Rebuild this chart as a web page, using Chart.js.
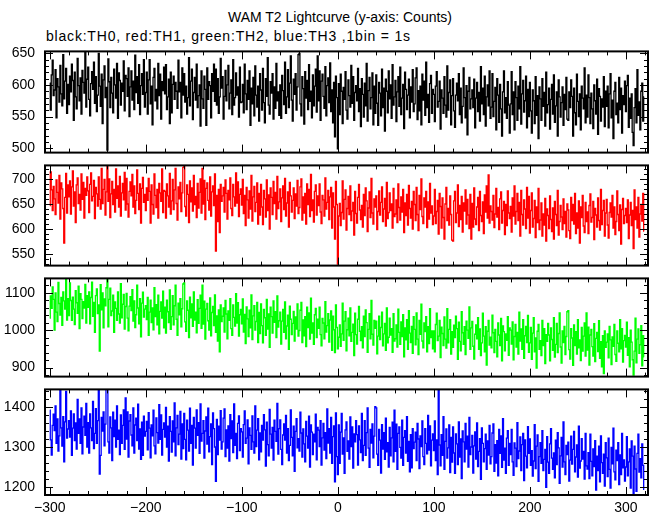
<!DOCTYPE html>
<html><head><meta charset="utf-8">
<script src="https://cdn.jsdelivr.net/npm/chart.js@4.4.0/dist/chart.umd.min.js"></script>
<style>
html,body{margin:0;padding:0;background:#fff;}
#wrap{position:relative;width:652px;height:515px;overflow:hidden;font-family:"Liberation Sans",Arial,sans-serif;background:#fff;}
#wrap canvas{position:absolute;left:0;}
.t{position:absolute;white-space:nowrap;font-size:14px;color:#000;line-height:14px;}
</style></head><body>
<div id="wrap">
<div class="t" id="title" style="left:0;width:680px;text-align:center;top:10px;">WAM T2 Lightcurve (y-axis: Counts)</div>
<div class="t" id="subtitle" style="left:46px;top:29px;letter-spacing:0.8px;">black:TH0, red:TH1, green:TH2, blue:TH3 ,1bin = 1s</div>
</div>
<script>
// ---- data (counts per 1 s bin, bins start at t = -300 s) ----
const T_START = -300;
const TH0 = [
603,560,616,639,583,592,624,548,610,597,573,631,586,567,648,578,606,626,555,601,
569,614,589,633,607,544,620,581,562,642,599,575,611,554,623,604,587,652,565,609,
628,577,551,602,621,593,636,571,613,558,584,650,598,566,617,539,608,630,580,596,
497,641,605,564,612,587,556,625,600,579,634,547,619,607,568,603,590,638,559,615,
610,582,627,550,597,622,576,606,561,647,588,613,571,632,553,599,618,585,640,565,
588,620,554,608,640,570,598,537,612,626,575,593,562,634,583,617,546,605,591,628,
586,632,561,581,609,539,620,556,601,614,577,604,590,563,639,589,604,548,627,584,
618,573,598,554,580,643,567,606,625,545,588,612,576,633,564,583,600,535,622,578,
563,614,593,536,627,577,605,599,548,618,590,633,574,625,568,610,555,581,642,595,
613,546,582,623,575,600,631,562,587,608,553,640,568,580,619,584,597,549,628,572,
573,601,556,633,586,561,607,577,622,536,595,570,612,551,630,584,565,598,543,618,
592,560,626,572,540,610,582,643,568,554,605,587,618,546,597,563,634,575,589,552,
600,547,615,591,569,636,555,581,624,564,603,646,576,543,609,585,618,560,597,648,
650,570,551,613,594,538,621,579,607,561,632,574,590,548,616,567,598,625,557,646,
575,622,544,606,617,582,563,629,551,599,611,572,635,558,592,540,604,518,614,580,
499,602,553,617,590,539,596,577,621,560,546,608,583,565,631,571,613,544,588,599,
575,626,558,594,534,610,585,549,603,567,634,543,591,612,562,580,619,537,598,555,
616,571,536,604,587,551,625,564,595,527,609,590,556,622,578,600,547,632,568,581,
607,542,589,613,566,628,553,579,601,531,620,593,561,584,609,548,597,573,624,558,
570,611,627,545,591,559,598,537,617,576,606,552,636,564,585,541,602,615,555,593,
585,542,598,621,565,574,606,530,592,579,555,613,568,549,630,560,588,608,537,583,
610,559,533,584,603,575,618,553,595,540,566,627,580,548,599,521,590,612,562,578,
592,564,609,532,579,604,558,588,543,629,570,595,553,614,535,581,600,567,622,547,
565,618,550,574,596,529,610,584,541,601,562,519,589,622,556,580,547,605,568,524,
570,621,553,589,529,605,580,544,598,562,629,538,586,607,557,575,614,532,593,550,
604,559,524,592,575,539,613,552,583,515,597,578,544,610,566,588,535,620,556,569,
595,530,577,601,554,616,541,567,589,519,608,581,549,572,597,536,585,561,612,546,
544,589,564,608,582,519,595,556,537,617,574,550,586,529,598,579,562,627,540,584,
549,616,580,539,587,562,531,600,575,554,609,522,594,582,543,578,565,613,534,590,
566,598,532,586,618,548,576,515,590,604,553,571,540,612,561,595,524,583,569,606,
558,599,615,533,579,547,586,525,504,564,594,540,624,552,573,529,590,603,543,581];
const TH1 = [
647,714,678,637,685,660,629,698,673,652,707,620,692,680,641,572,663,711,632,688,
664,696,630,684,716,646,674,613,688,702,651,669,638,710,659,693,622,681,667,704,
676,633,689,712,656,665,697,621,683,670,646,704,659,640,721,651,679,699,628,674,
727,655,700,623,670,695,649,679,634,720,661,686,644,705,626,672,691,658,713,638,
701,650,624,675,694,666,709,644,686,631,657,718,671,639,690,612,681,703,653,669,
637,682,657,701,675,612,688,649,630,710,667,643,679,622,691,672,655,720,633,677,
675,622,690,666,644,711,630,656,699,639,678,721,651,618,684,660,693,635,672,723,
725,645,626,688,669,613,696,654,682,636,707,649,665,623,691,642,673,700,632,721,
650,697,619,681,692,657,638,704,626,674,686,647,710,556,667,615,679,593,689,655,
666,683,634,698,671,620,677,658,702,641,627,689,664,646,712,652,694,625,669,680,
648,699,631,667,607,683,658,622,676,640,707,616,664,685,635,653,692,610,671,628,
689,644,609,677,660,624,698,637,668,600,682,663,629,695,651,673,620,705,641,654,
680,615,662,686,639,701,626,652,674,604,693,666,634,657,682,621,670,646,697,631,
643,684,700,618,664,632,671,610,690,649,679,625,709,637,658,614,675,688,628,666,
647,690,634,611,667,658,626,702,640,653,677,619,664,683,602,672,644,580,695,649,
530,626,651,607,633,696,620,659,678,598,641,665,629,686,617,636,653,588,675,631,
612,663,689,638,619,647,604,669,627,682,656,595,642,674,623,701,632,610,660,644,
666,599,635,676,628,653,684,615,640,661,606,693,621,633,672,637,650,602,681,625,
630,658,613,690,643,618,664,634,679,593,652,627,669,608,687,641,622,655,600,675,
649,617,683,629,597,667,639,700,625,611,662,644,675,603,654,620,691,632,646,609,
626,679,611,635,657,590,671,645,602,662,623,580,650,683,617,641,608,666,629,578,
576,656,675,613,632,688,605,647,619,665,594,652,636,678,610,659,628,601,669,580,
651,604,682,620,609,644,663,597,675,627,615,654,591,668,634,686,622,708,612,646,
635,618,667,603,630,681,624,643,599,660,674,612,637,655,589,649,607,676,632,621,
645,594,662,626,686,610,635,671,617,653,586,677,629,608,658,640,601,683,622,665,
592,637,672,604,621,657,583,644,613,681,599,618,652,586,630,608,661,576,640,627,
601,666,619,595,642,580,655,629,607,677,588,615,647,624,599,660,611,635,584,650,
638,597,581,663,617,649,610,671,591,632,602,656,572,644,623,667,606,593,653,615,
634,591,647,670,614,623,655,579,641,628,604,662,617,598,679,609,637,657,586,632,
659,608,582,633,652,624,667,602,644,589,615,676,629,597,648,570,639,661,611,627,
641,613,658,581,628,653,607,637,561,678,619,644,602,663,584,630,649,616,671,596];
const TH2 = [
1032,1091,1058,1115,1082,1000,1099,1048,1023,1127,1071,1040,1087,1013,1102,1078,1056,1138,1027,1084,
1039,1126,1079,1026,1088,1056,1015,1105,1073,1045,1117,1004,1097,1082,1031,1076,1059,1122,1019,1092,
1061,1102,1017,1087,1128,1037,1074,994,1092,1110,1044,1067,944,1121,1054,1099,1006,1083,1065,1113,
1138,1009,1082,1112,1039,1051,1093,994,1075,1058,1026,1102,1043,1019,1124,1033,1069,1095,1003,1063,
1098,1032,998,1064,1089,1052,1108,1024,1078,1007,1041,1120,1059,1017,1084,982,1072,1101,1035,1056,
1065,1028,1087,986,1048,1080,1020,1059,1001,1113,1036,1068,1014,1093,990,1050,1075,1032,1104,1006,
1061,992,1080,1049,1020,1107,1002,1036,1092,1014,1065,1120,1029,986,1072,1041,1084,1009,1057,1123,
1126,1022,997,1078,1053,980,1088,1033,1070,1010,1102,1027,1048,993,1081,1018,1058,1093,1005,1120,
1016,1077,976,1056,1071,1025,1000,1086,985,1047,1063,1012,1094,994,1038,971,1054,942,1067,1023,
1037,1059,995,1079,1043,977,1051,1026,1084,1004,986,1067,1034,1011,1097,1019,1073,984,1041,1055,
1017,1083,995,1042,964,1062,1030,983,1053,1006,1094,975,1038,1065,1000,1023,1074,967,1047,991,
1070,1012,966,1055,1033,986,1082,1003,1043,954,1061,1036,992,1078,1021,1049,980,1091,1008,1025,
1048,963,1024,1055,994,1075,977,1011,1040,949,1064,1029,988,1018,1050,971,1035,1003,1070,984,
999,1053,1074,967,1027,985,1036,956,1061,1007,1046,976,1085,992,1019,962,1041,1058,980,1029,
1005,1061,988,958,1031,1019,977,1076,995,1012,1044,968,1027,1051,946,1037,1001,940,1067,1007,
950,981,1014,957,990,1072,973,1024,1049,945,1001,1032,985,1059,970,994,1016,932,1045,988,
963,1029,1063,997,972,1009,953,1037,983,1054,1020,941,1002,1044,977,1079,989,960,1026,1005,
1024,937,984,1037,975,1007,1048,958,990,1018,946,1059,966,981,1032,987,1004,941,1044,971,
977,1014,955,1056,994,962,1022,983,1041,929,1006,974,1028,949,1052,992,967,1010,938,1036,
1002,961,1046,976,935,1026,989,1069,971,953,1019,996,1036,942,1009,964,1057,980,998,950,
998,942,1015,1045,972,984,1026,927,1008,991,959,1035,976,952,1057,966,1002,1028,936,996,
954,1013,980,1037,1004,922,1021,970,945,1049,993,962,1009,935,1024,1000,978,1062,949,1006,
1023,957,923,989,1014,977,1033,949,1003,932,966,1045,984,942,1009,907,997,1026,960,981,
953,1040,993,940,1002,970,929,1019,987,959,1031,918,1011,996,945,990,973,1036,933,1006,
1000,963,1022,921,983,1015,955,994,936,1048,971,1003,949,1028,925,985,1010,967,1039,941,
966,1007,922,992,1033,942,979,899,997,1015,949,972,932,1026,959,1004,911,988,970,1018,
987,918,1006,975,946,1033,928,962,1018,940,991,1046,955,912,998,967,1010,935,983,1049,
1052,948,923,1004,979,906,1014,959,996,936,1028,953,974,919,1007,944,984,1019,931,1046,
947,1008,907,987,1002,956,931,1017,916,978,994,943,1025,925,969,902,985,884,998,954,
968,990,926,1010,974,908,982,957,1015,935,917,998,965,942,1028,950,1004,915,972,986,
955,1021,933,980,902,1000,968,921,880,944,1032,913,976,1003,938,961,1012,905,985,929];
const TH3 = [
1393,1319,1281,1355,1383,1342,1404,1310,1371,1291,1329,1445,1349,1303,1377,1264,1364,1440,1323,1346,
1367,1326,1391,1280,1348,1384,1317,1361,1296,1420,1335,1371,1310,1399,1284,1351,1378,1330,1410,1301,
1362,1286,1384,1349,1317,1415,1297,1335,1397,1310,1367,1445,1233,1280,1375,1341,1389,1304,1358,1445,
1445,1314,1286,1376,1349,1267,1388,1327,1368,1301,1404,1320,1343,1282,1381,1310,1355,1394,1295,1424,
1321,1389,1276,1366,1382,1331,1304,1399,1286,1356,1373,1317,1408,1296,1346,1270,1363,1280,1378,1328,
1340,1365,1294,1387,1348,1274,1356,1329,1393,1304,1284,1374,1337,1311,1407,1320,1381,1281,1345,1361,
1326,1400,1301,1353,1266,1377,1340,1288,1366,1314,1411,1279,1349,1380,1307,1333,1390,1271,1359,1297,
1385,1320,1269,1368,1343,1291,1398,1310,1355,1256,1375,1348,1298,1394,1330,1362,1285,1409,1316,1335,
1367,1273,1341,1376,1308,1398,1289,1327,1359,1257,1386,1347,1301,1215,1370,1282,1353,1318,1392,1296,
1314,1373,1396,1277,1344,1298,1354,1266,1382,1322,1366,1287,1409,1305,1335,1272,1360,1379,1292,1347,
1339,1276,1357,1391,1310,1323,1369,1259,1349,1330,1295,1379,1314,1286,1404,1302,1343,1372,1269,1336,
1289,1355,1318,1382,1344,1253,1363,1307,1279,1395,1333,1298,1350,1268,1368,1340,1315,1410,1283,1347,
1369,1295,1257,1331,1359,1318,1380,1286,1347,1267,1305,1394,1325,1279,1353,1240,1340,1372,1299,1322,
1291,1388,1336,1276,1346,1309,1264,1365,1328,1298,1378,1251,1356,1338,1282,1333,1314,1383,1269,1350,
1343,1302,1367,1256,1324,1360,1293,1337,1272,1396,1311,1347,1286,1375,1260,1327,1354,1214,1386,1277,
1232,1356,1260,1338,1385,1283,1324,1235,1344,1364,1290,1316,1271,1376,1302,1351,1248,1334,1314,1367,
1332,1256,1354,1319,1287,1385,1267,1305,1367,1280,1337,1399,1298,1250,1345,1311,1359,1274,1328,1402,
1399,1283,1255,1345,1318,1236,1357,1296,1337,1270,1373,1289,1312,1251,1350,1279,1324,1363,1264,1393,
1290,1358,1245,1335,1351,1300,1273,1368,1255,1325,1342,1286,1377,1265,1315,1239,1332,1249,1347,1297,
1313,1338,1267,1360,1321,1247,1329,1302,1366,1277,1257,1347,1310,1284,1380,1293,1354,1254,1318,1334,
1292,1366,1267,1319,1232,1445,1306,1254,1332,1280,1377,1245,1315,1346,1273,1299,1356,1237,1325,1263,
1351,1286,1235,1334,1309,1257,1364,1276,1321,1222,1341,1314,1264,1360,1296,1328,1251,1375,1282,1301,
1330,1236,1304,1339,1271,1361,1252,1290,1322,1220,1349,1310,1264,1297,1333,1245,1316,1281,1355,1259,
1277,1336,1359,1240,1307,1261,1317,1229,1345,1285,1329,1250,1372,1268,1298,1235,1323,1342,1255,1310,
1282,1345,1264,1230,1311,1298,1252,1362,1272,1291,1326,1242,1307,1335,1217,1319,1278,1249,1352,1285,
1321,1255,1292,1228,1266,1357,1247,1303,1331,1215,1277,1312,1260,1342,1242,1270,1295,1200,1327,1263,
1235,1309,1347,1273,1245,1286,1224,1318,1257,1337,1299,1210,1279,1325,1251,1364,1264,1232,1305,1282,
1313,1216,1268,1328,1258,1295,1340,1239,1276,1306,1226,1353,1248,1266,1322,1271,1290,1221,1335,1254,
1246,1287,1222,1333,1265,1229,1296,1252,1317,1193,1278,1242,1303,1214,1329,1262,1235,1283,1203,1312,
1274,1227,1323,1245,1198,1300,1259,1348,1239,1219,1293,1267,1312,1207,1281,1232,1335,1249,1269,1216,
1251,1327,1229,1264,1296,1198,1316,1278,1184,1303,1246,1190,1285,1333,1238,1272,1224,1309,1255,1195];

// tick labels
const X_TICKS = [-300, -200, -100, 0, 100, 200, 300];
const Y_TICKS_TH0 = [500, 550, 600, 650];
const Y_TICKS_TH1 = [550, 600, 650, 700];
const Y_TICKS_TH2 = [900, 1000, 1100];
const Y_TICKS_TH3 = [1200, 1300, 1400];

// ---- layout / style ----
const X_MIN = -305, X_MAX = 323, X_MINOR = 20, X_MAJOR = 100;
const FONT = {family: '"Liberation Sans", Arial, Helvetica, sans-serif', size: 14};
const PANELS = [
  {values: TH0, color: '#000000', min: 493,  max: 653,  ticks: Y_TICKS_TH0, minor: 10, major: 50,  top: 45,  bottom: 159},
  {values: TH1, color: '#ff0000', min: 527,  max: 727,  ticks: Y_TICKS_TH1, minor: 10, major: 50,  top: 159, bottom: 272},
  {values: TH2, color: '#00ff00', min: 876,  max: 1138, ticks: Y_TICKS_TH2, minor: 20, major: 100, top: 272, bottom: 383},
  {values: TH3, color: '#0000ff', min: 1181, max: 1445, ticks: Y_TICKS_TH3, minor: 20, major: 100, top: 383, bottom: 495}
];

const frameTicks = {
  id: 'frameTicks',
  afterDraw(chart, args, o) {
    const {ctx, chartArea: a} = chart;
    const xs = chart.scales.x, ys = chart.scales.y;
    ctx.save();
    ctx.strokeStyle = '#000';
    ctx.lineWidth = 1;
    ctx.beginPath();
    for (let v = Math.ceil(xs.min / X_MINOR) * X_MINOR; v <= xs.max; v += X_MINOR) {
      const px = Math.round(xs.getPixelForValue(v)) + 0.5;
      const L = (v % X_MAJOR === 0) ? 8 : 4;
      ctx.moveTo(px, a.top); ctx.lineTo(px, a.top + L);
      ctx.moveTo(px, a.bottom); ctx.lineTo(px, a.bottom - L);
    }
    for (let v = Math.ceil(ys.min / o.minor) * o.minor; v <= ys.max; v += o.minor) {
      const py = Math.round(ys.getPixelForValue(v)) + 0.5;
      const L = (v % o.major === 0) ? 8 : 4;
      ctx.moveTo(a.left, py); ctx.lineTo(a.left + L, py);
      ctx.moveTo(a.right, py); ctx.lineTo(a.right - L, py);
    }
    ctx.stroke();
    ctx.lineWidth = 2;
    ctx.strokeRect(a.left, a.top, a.right - a.left, a.bottom - a.top);
    ctx.restore();
  }
};

const wrap = document.getElementById('wrap');
PANELS.forEach((p, i) => {
  const last = i === PANELS.length - 1;
  const padT = 12, padB = last ? 0 : 12, xH = last ? 20 : 0;
  const h = (p.bottom - p.top) + padT + padB + xH;
  const cv = document.createElement('canvas');
  cv.width = 652; cv.height = h;
  cv.style.width = '652px'; cv.style.height = h + 'px';
  cv.style.top = (p.top - padT) + 'px';
  wrap.appendChild(cv);
  new Chart(cv, {
    type: 'line',
    data: {datasets: [{
      data: p.values.map((v, k) => ({x: T_START + k, y: v})),
      borderColor: p.color, borderWidth: 1.3, pointRadius: 0, stepped: 'middle', fill: false
    }]},
    options: {
      responsive: false, animation: false, devicePixelRatio: 1,
      layout: {padding: {top: padT, bottom: padB, left: 0, right: 4}},
      plugins: {legend: {display: false}, tooltip: {enabled: false}, title: {display: false},
                frameTicks: {minor: p.minor, major: p.major}},
      scales: {
        x: {type: 'linear', min: X_MIN, max: X_MAX, display: last,
            grid: {display: false, drawTicks: false}, border: {display: false},
            afterBuildTicks: s => { s.ticks = X_TICKS.map(v => ({value: v})); },
            afterFit: s => { s.height = xH; },
            ticks: {padding: 5, font: FONT, color: '#000', autoSkip: false, maxRotation: 0,
                    callback: v => String(v).replace('-', '\u2212')}},
        y: {type: 'linear', min: p.min, max: p.max,
            grid: {display: false, drawTicks: false}, border: {display: false},
            afterBuildTicks: s => { s.ticks = p.ticks.map(v => ({value: v})); },
            afterFit: s => { s.width = 45; },
            ticks: {padding: 10, font: FONT, color: '#000', autoSkip: false, callback: v => String(v)}}
      }
    },
    plugins: [frameTicks]
  });
});
</script>
</body></html>
